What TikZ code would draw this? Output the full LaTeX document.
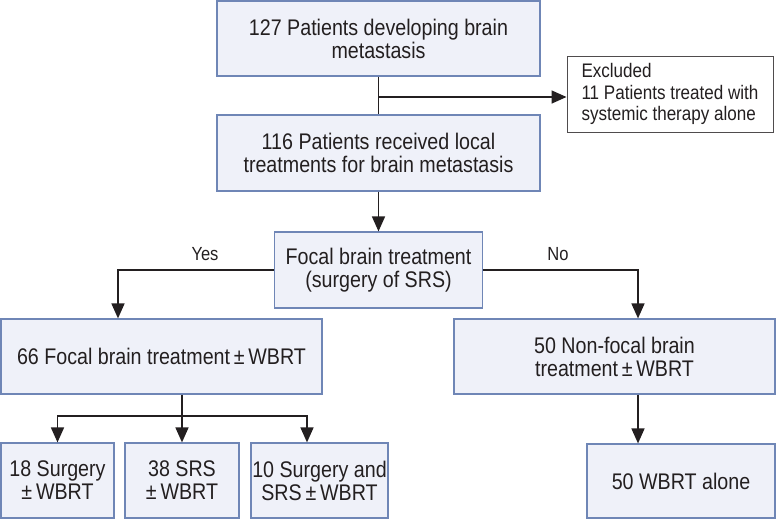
\documentclass[tikz,border=0pt]{standalone}
\usepackage{fontspec}
\setmainfont{Liberation Sans}[FakeStretch=0.87]
\usetikzlibrary{arrows.meta,calc}
\definecolor{boxfill}{HTML}{EFF1F9}
\definecolor{boxline}{HTML}{6F86B6}
\definecolor{ink}{HTML}{231F20}
\begin{document}
\begin{tikzpicture}[x=1pt,y=-1pt,
  bluebox/.style={draw=boxline,line width=1.2pt,fill=boxfill,inner sep=0pt,
    align=center,text=ink,font=\fontsize{22.6}{23}\selectfont},
  exbox/.style={draw=ink!80,line width=1pt,fill=white,inner sep=0pt,
    text=ink,font=\fontsize{19.6}{21.7}\selectfont},
  conn/.style={draw=ink,line width=1.6pt},
  arr/.style={conn,-{Triangle[width=13pt,length=15pt]}},
  lbl/.style={text=ink,font=\fontsize{19}{22}\selectfont}]
\useasboundingbox (0,0) rectangle (776,520);
\node[bluebox,minimum width=323,minimum height=75] (b1) at (378.5,38.5)
  {127 Patients developing brain\\metastasis};
\node[bluebox,minimum width=323,minimum height=76] (b2) at (378.5,153)
  {116 Patients received local\\treatments for brain metastasis};
\node[exbox,minimum width=206,minimum height=76] (ex) at (670,94) {};
\node[exbox,draw=none,fill=none,anchor=west,align=left] (ext) at (581,94)
  {Excluded\\11 Patients treated with\\systemic therapy alone};
\node[bluebox,minimum width=208,minimum height=76] (b3) at (378.5,270)
  {Focal brain treatment\\(surgery of SRS)};
\node[bluebox,minimum width=321,minimum height=75] (b4) at (161.5,356.5)
  {66 Focal brain treatment\,±\,WBRT};
\node[bluebox,minimum width=321,minimum height=75] (b5) at (614.5,356.5)
  {50 Non-focal brain\\treatment\,±\,WBRT};
\node[bluebox,minimum width=113,minimum height=75] (ba) at (57.5,480.5)
  {18 Surgery\\±\,WBRT};
\node[bluebox,minimum width=114,minimum height=75] (bb) at (182,480.5)
  {38 SRS\\±\,WBRT};
\node[bluebox,minimum width=137,minimum height=75] (bc) at (319.5,480.5)
  {10 Surgery and\\SRS\,±\,WBRT};
\node[bluebox,minimum width=188,minimum height=74] (b6) at (681,481)
  {50 WBRT alone};
\coordinate (split) at (378.5,97);
\coordinate (fork) at (182,416);
\draw[conn] (b1.south) -- (b2.north);
\draw[arr] (split) -- (split -| ex.west);
\draw[arr] (b2.south) -- (b3.north);
\draw[arr] (b3.west) -| ([xshift=-43.5]b4.north);
\draw[arr] (b3.east) -| ([xshift=23.5]b5.north);
\draw[arr] ([xshift=23.5]b5.south) -- ([xshift=23.5]b5.south |- b6.north);
\draw[conn] ([xshift=20.5]b4.south) -- (fork);
\draw[arr] (fork) -| (ba.north);
\draw[arr] (fork) -- (bb.north);
\draw[arr] (fork) -| ([xshift=-12.5]bc.north);
\node[lbl] (yes) at (205,254) {Yes};
\node[lbl] (no) at (558,254) {No};
\end{tikzpicture}
\end{document}
